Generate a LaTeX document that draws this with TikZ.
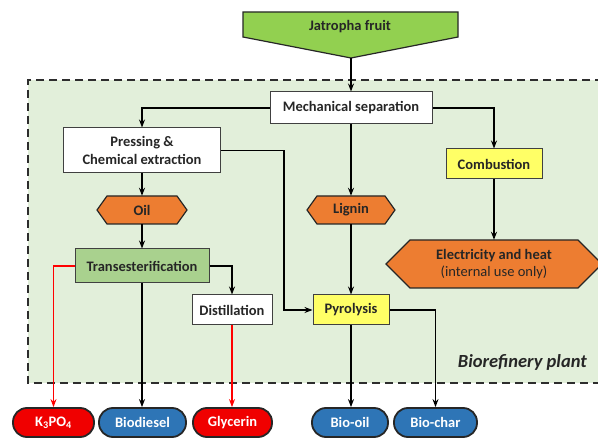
\documentclass[tikz,border=0pt]{standalone}
\usepackage{fontspec}
\setmainfont{Carlito}
\usetikzlibrary{arrows.meta}

\definecolor{fruitgreen}{HTML}{92D050}
\definecolor{plantbg}{HTML}{E2EFDA}
\definecolor{transgreen}{HTML}{A9D18E}
\definecolor{hexorange}{HTML}{ED7D31}
\definecolor{boxyellow}{HTML}{FFFF66}
\definecolor{pillred}{HTML}{F00000}
\definecolor{pillblue}{HTML}{2E75B6}
\definecolor{edgegray}{HTML}{404040}
\definecolor{inkdark}{HTML}{262626}

% hexagon: name, cx, cy, half width, half height, tip inset, text
\newcommand\hexnode[7]{%
  \filldraw[hexstyle]
    ({#2-#4},#3) -- ({#2-#4+#6},{#3-#5}) -- ({#2+#4-#6},{#3-#5}) --
    ({#2+#4},#3) -- ({#2+#4-#6},{#3+#5}) -- ({#2-#4+#6},{#3+#5}) -- cycle;
  \node[hexlabel, minimum width={2*#4}, minimum height={2*#5}] (#1) at (#2,#3) {#7};
}

\tikzset{
  x=1pt, y=-1pt,
  every node/.style={font=\fontsize{14.5}{16.5}\selectfont\bfseries, text=inkdark, inner sep=0pt},
  box/.style={draw=edgegray, line width=1pt, fill=white, align=center},
  ybox/.style={box, fill=boxyellow},
  gbox/.style={box, fill=transgreen},
  hexstyle/.style={fill=hexorange, draw=inkdark, line width=1.2pt, line join=miter},
  hexlabel/.style={align=center},
  pill/.style={draw=black!85, line width=1.8pt, rounded corners=14pt, minimum height=29pt, text=white},
  redpill/.style={pill, fill=pillred},
  bluepill/.style={pill, fill=pillblue},
  arr/.style={draw=black, line width=1.4pt, -{Stealth[length=8pt, width=6pt]}},
  redarr/.style={draw=red, line width=1.2pt, -{Stealth[length=8pt, width=6pt]}, color=red},
}

\begin{document}
\begin{tikzpicture}
\useasboundingbox (0,0) rectangle (598,438);
\fill[white] (0,0) rectangle (598,438);

% plant boundary
\fill[plantbg] (28,80) rectangle (603,383);
\draw[edgegray!70!black, line width=2pt, dash pattern=on 8pt off 5pt] (603,80) -- (28,80) -- (28,383) -- (603,383);
\node[font=\fontsize{18.5}{20}\selectfont\bfseries\itshape, anchor=east] (plant) at (587,362) {Biorefinery plant};

% raw material
\filldraw[fill=fruitgreen, draw=inkdark, line width=1.2pt, line join=miter]
  (243,12) -- (458,12) -- (458,37) -- (351,58) -- (243,37) -- cycle;
\node (fruit) at (350,27) {Jatropha fruit};
\coordinate (fruittip) at (351,58);

% process steps
\node[box, minimum width=162pt, minimum height=32pt] (mech) at (351,108) {Mechanical separation};
\node[box, minimum width=157pt, minimum height=45pt] (press) at (142,150.5) {Pressing \&\\[2pt]Chemical extraction};
\node[gbox, minimum width=134pt, minimum height=34pt] (trans) at (142,266) {Transesterification};
\node[box, minimum width=80pt, minimum height=30pt] (dist) at (232,310) {Distillation};
\node[ybox, minimum width=96pt, minimum height=30pt] (comb) at (494,164) {Combustion};
\node[ybox, minimum width=76pt, minimum height=30pt] (pyro) at (351,310) {Pyrolysis};

% intermediates
\hexnode{oil}{142}{210}{45}{14}{10}{Oil}
\hexnode{lig}{351}{210}{44}{14}{10}{Lignin}
\hexnode{elec}{494}{264}{108}{24}{24}{Electricity and heat\\[1pt]{\mdseries (internal use only)}}

% products
\node[redpill, minimum width=81pt] (k3po) at (53.5,422.5) {K\textsubscript{3}PO\textsubscript{4}};
\node[bluepill, minimum width=87pt] (diesel) at (142.5,422.5) {Biodiesel};
\node[redpill, minimum width=79pt] (glyc) at (232.5,422.5) {Glycerin};
\node[bluepill, minimum width=76pt] (biooil) at (350,422.5) {Bio-oil};
\node[bluepill, minimum width=83pt] (biochar) at (435.5,422.5) {Bio-char};

% flows
\draw[arr] (fruittip) -- (fruittip |- mech.north);
\draw[arr] (mech.west) -| (press.north);
\draw[arr] (mech.east) -| (comb.north);
\draw[arr] (mech.south) -- (lig.north);
\draw[arr] (press.south) -- (oil.north);
\draw[arr] (oil.south) -- (trans.north);
\draw[arr] (press.east) -- ++(63,0) |- (pyro.west);
\draw[arr] (lig.south) -- (pyro.north);
\draw[arr] (comb.south) -- (elec.north);
\draw[arr] (trans.east) -| (dist.north);
\draw[redarr] (trans.west) -| (k3po.north);
\draw[arr] (trans.south) -- (trans.south |- diesel.north);
\draw[redarr] (dist.south) -- (dist.south |- glyc.north);
\draw[arr] (pyro.south) -- (pyro.south |- biooil.north);
\draw[arr] (pyro.east) -| (biochar.north);
\end{tikzpicture}
\end{document}
